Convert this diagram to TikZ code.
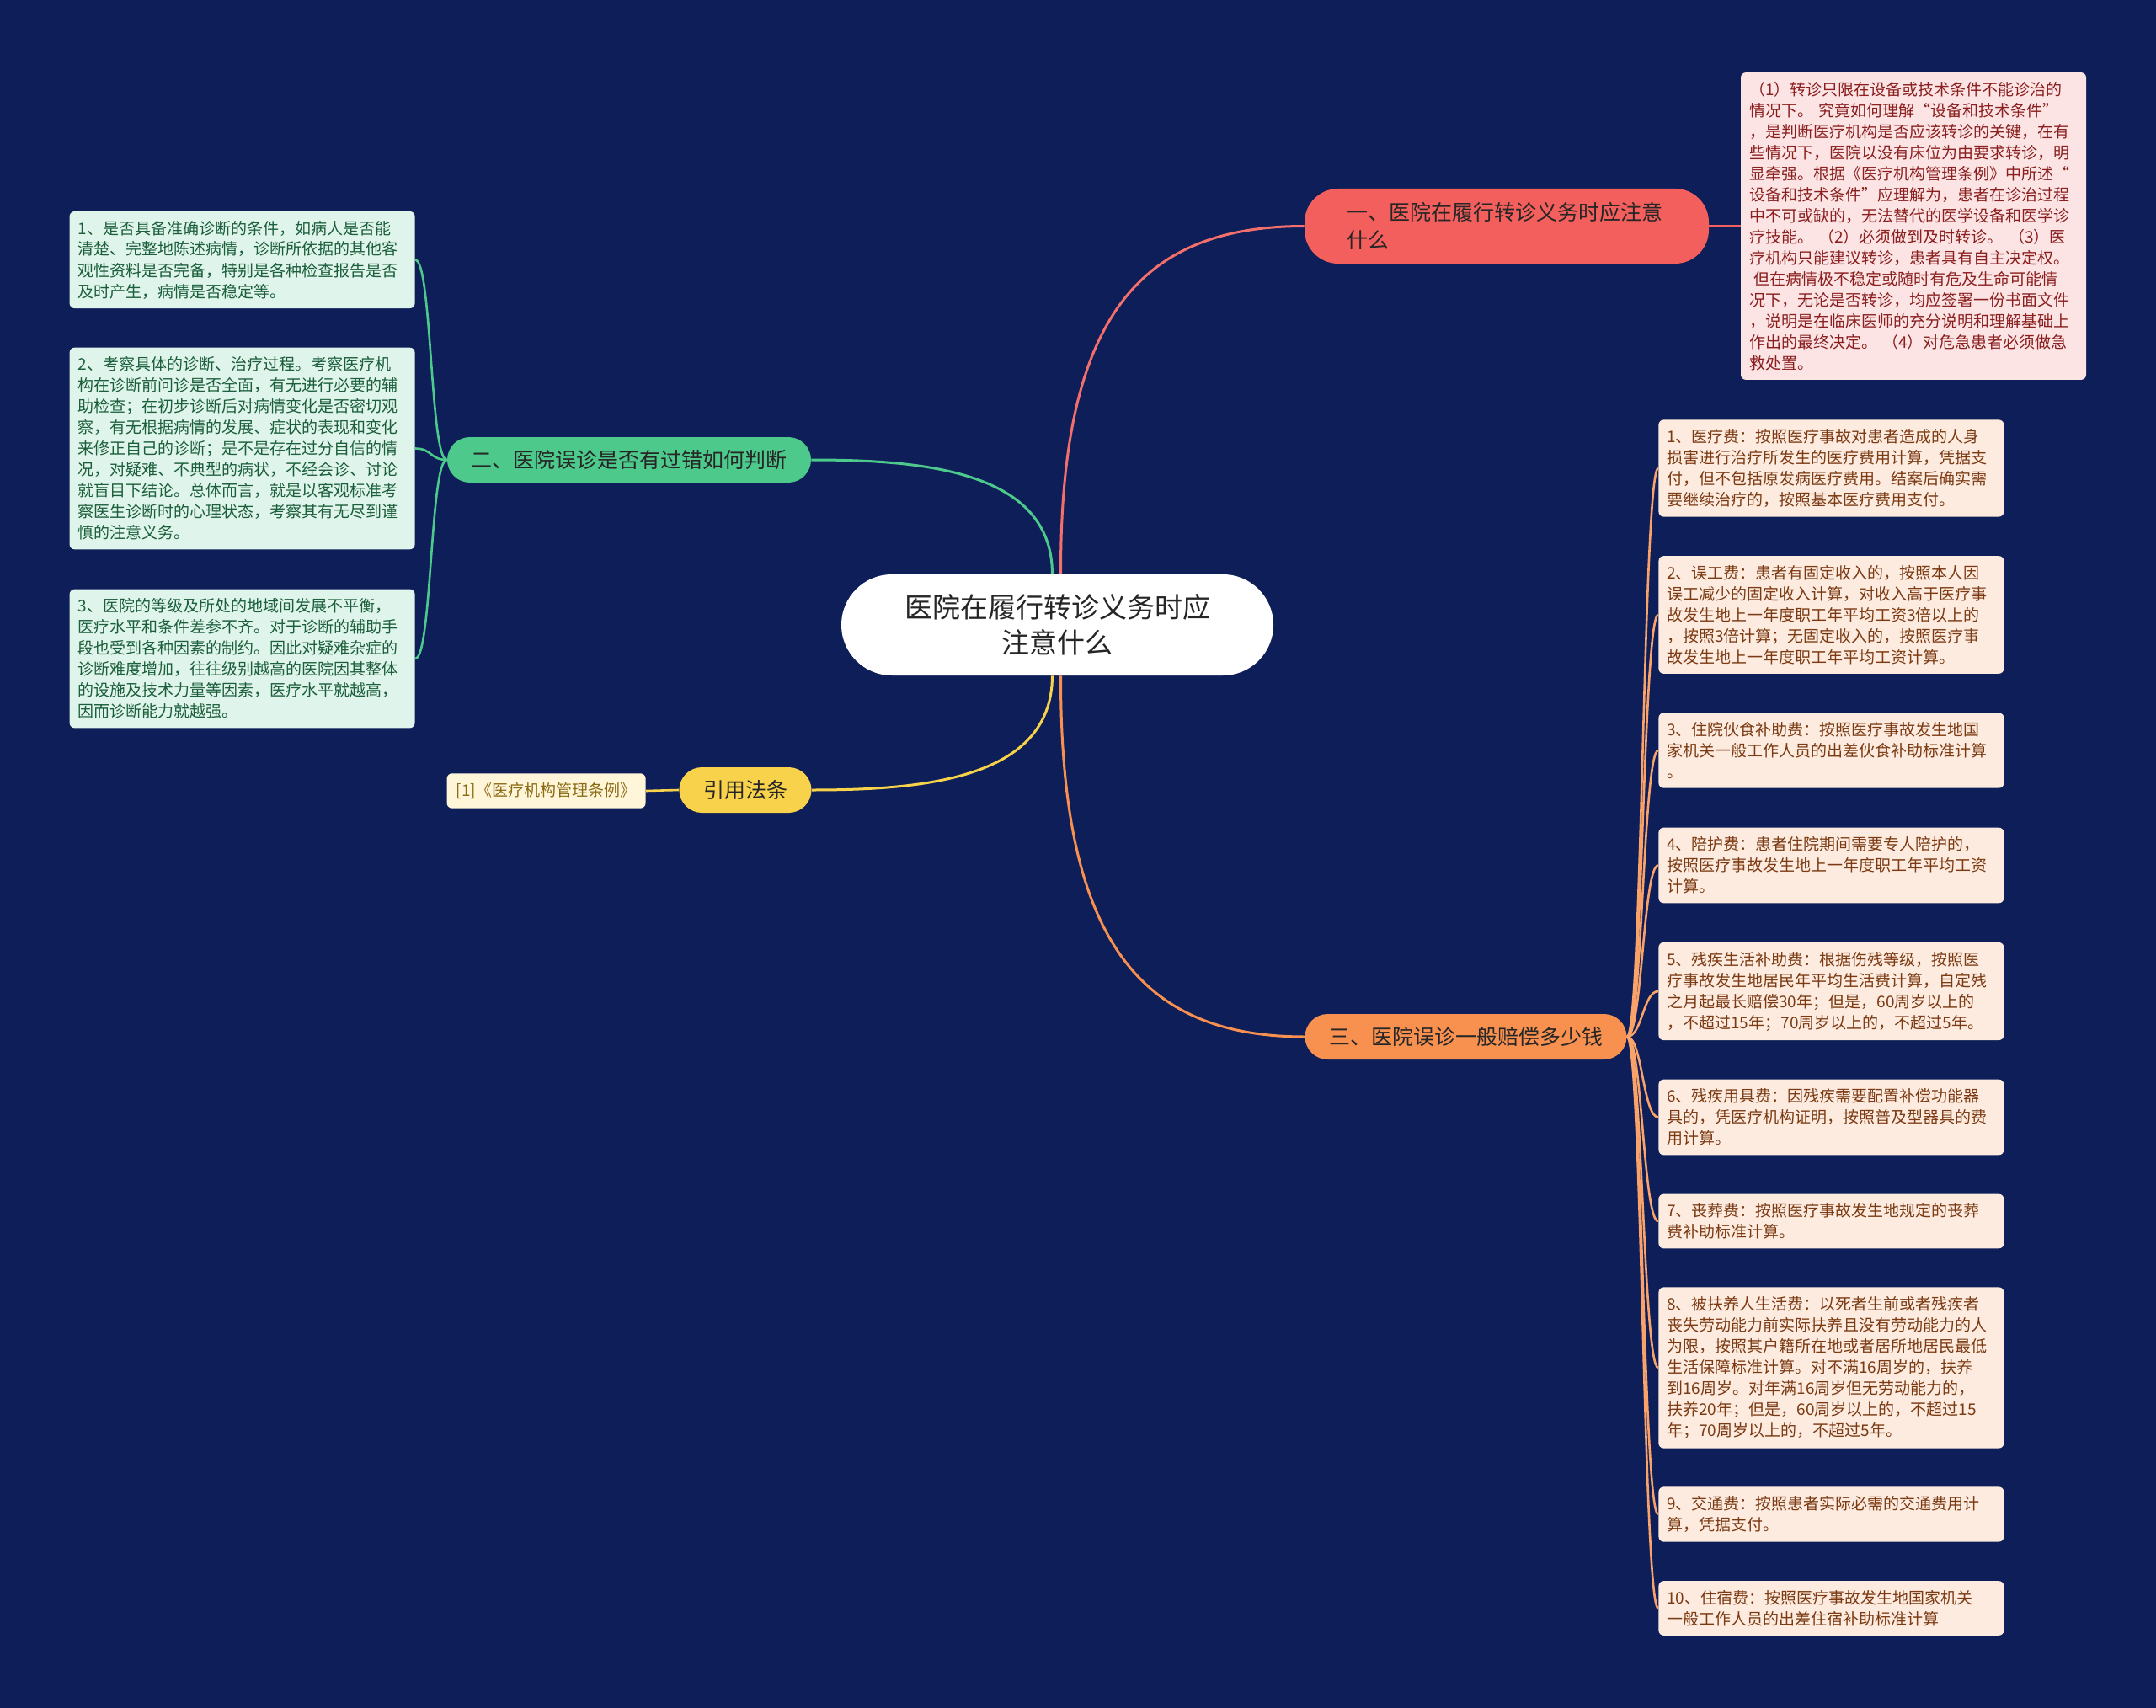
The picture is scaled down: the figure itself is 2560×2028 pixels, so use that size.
\documentclass[tikz,border=0pt]{standalone}
\usepackage{fontspec}
\setmainfont{Noto Sans CJK SC}
\definecolor{cnavy}{HTML}{0E1E58}
\definecolor{cdark}{HTML}{262626}
\definecolor{cred}{HTML}{F25F5C}
\definecolor{credl}{HTML}{FCE4E4}
\definecolor{credt}{HTML}{8B1E1E}
\definecolor{cgreen}{HTML}{4CC98B}
\definecolor{cgreenl}{HTML}{DFF4EA}
\definecolor{cgreent}{HTML}{1B5E3B}
\definecolor{cyellow}{HTML}{F8D24A}
\definecolor{cyellowl}{HTML}{FFF5D9}
\definecolor{cyellowt}{HTML}{8A6A12}
\definecolor{corange}{HTML}{F89150}
\definecolor{corangel}{HTML}{FDEBE0}
\definecolor{coranget}{HTML}{7B3A12}
\tikzset{
  rootbox/.style={fill=white, text=cdark, rounded corners=30pt, minimum width=256.5pt, minimum height=60pt, align=center, font=\fontsize{16.5pt}{21pt}\selectfont},
  branch/.style={fill=#1, text=cdark, rounded corners=13.5pt, minimum height=27pt, inner xsep=14.25pt, font=\fontsize{12.5pt}{16.5pt}\selectfont},
  leaf/.style 2 args={fill=#1, text=#2, rounded corners=3pt, text width=195pt, align=left, inner xsep=5pt, inner ysep=5.5pt, font=\fontsize{9.5pt}{12.5pt}\selectfont},
  link/.style={draw=#1, line width=1.5pt},
  twig/.style={draw=#1, line width=1.3pt},
}

\begin{document}
\begin{tikzpicture}[x=0.5pt, y=-0.5pt]
  \fill[cnavy] (0,0) rectangle (2560,2028);

  % centre and main branches
  \node[rootbox] (root) at (1255.5,742) {医院在履行转诊义务时应\\注意什么};
  \node[branch=cred, minimum width=240pt, minimum height=44.5pt, rounded corners=20pt, text width=190pt, align=left] (b1) at (1789,268.5) {一、医院在履行转诊义务时应注意\\什么};
  \node[branch=cgreen] (b2) at (747,546) {二、医院误诊是否有过错如何判断};
  \node[branch=cyellow] (b3) at (885,938) {引用法条};
  \node[branch=corange] (b4) at (1740.5,1231) {三、医院误诊一般赔偿多少钱};

  \draw[link=cred!90!white] ([xshift=2pt]root.north) .. controls (1259,382) and (1349,268.5) .. (b1.west);
  \draw[link=cgreen] ([xshift=-3pt]root.north) .. controls (1249,560) and (1100,546) .. (b2.east);
  \draw[link=cyellow] ([xshift=-3pt]root.south) .. controls (1249,924) and (1100,938) .. (b3.east);
  \draw[link=corange] ([xshift=2pt]root.south) .. controls (1259,1110) and (1349,1231) .. (b4.west);

  % branch one
  \node[leaf={credl}{credt}] (r1) at (2272,268.5) {（1）转诊只限在设备或技术条件不能诊治的\\情况下。 究竟如何理解“设备和技术条件”\\，是判断医疗机构是否应该转诊的关键，在有\\些情况下，医院以没有床位为由要求转诊，明\\显牵强。根据《医疗机构管理条例》中所述“\\设备和技术条件”应理解为，患者在诊治过程\\中不可或缺的，无法替代的医学设备和医学诊\\疗技能。 （2）必须做到及时转诊。 （3）医\\疗机构只能建议转诊，患者具有自主决定权。\\\hspace*{.3em}但在病情极不稳定或随时有危及生命可能情\\况下，无论是否转诊，均应签署一份书面文件\\，说明是在临床医师的充分说明和理解基础上\\作出的最终决定。 （4）对危急患者必须做急\\救处置。};
  \draw[twig=cred] (b1.east) -- (r1.west);

  % branch two
  \foreach \n/\y/\t in {1/308.5/{1、是否具备准确诊断的条件，如病人是否能\\清楚、完整地陈述病情，诊断所依据的其他客\\观性资料是否完备，特别是各种检查报告是否\\及时产生，病情是否稳定等。},
                        2/532.5/{2、考察具体的诊断、治疗过程。考察医疗机\\构在诊断前问诊是否全面，有无进行必要的辅\\助检查；在初步诊断后对病情变化是否密切观\\察，有无根据病情的发展、症状的表现和变化\\来修正自己的诊断；是不是存在过分自信的情\\况，对疑难、不典型的病状，不经会诊、讨论\\就盲目下结论。总体而言，就是以客观标准考\\察医生诊断时的心理状态，考察其有无尽到谨\\慎的注意义务。},
                        3/782/{3、医院的等级及所处的地域间发展不平衡，\\医疗水平和条件差参不齐。对于诊断的辅助手\\段也受到各种因素的制约。因此对疑难杂症的\\诊断难度增加，往往级别越高的医院因其整体\\的设施及技术力量等因素，医疗水平就越高，\\因而诊断能力就越强。}}
    { \node[leaf={cgreenl}{cgreent}, anchor=east] (g\n) at (493,\y) {\t};
      \draw[twig=cgreen] (b2.west) .. controls +(-20,0) and +(20,0) .. (g\n.east); }

  % branch three
  \node[leaf={cyellowl}{cyellowt}, text width=110pt, inner xsep=4pt, minimum height=20.5pt, align=center, anchor=east] (y1) at (767,939) {[1]《医疗机构管理条例》};
  \draw[twig=cyellow] (b3.west) -- (y1.east);

  % branch four
  \foreach \n/\y/\t in {1/556/{1、医疗费：按照医疗事故对患者造成的人身\\损害进行治疗所发生的医疗费用计算，凭据支\\付，但不包括原发病医疗费用。结案后确实需\\要继续治疗的，按照基本医疗费用支付。},
                        2/730/{2、误工费：患者有固定收入的，按照本人因\\误工减少的固定收入计算，对收入高于医疗事\\故发生地上一年度职工年平均工资3倍以上的\\，按照3倍计算；无固定收入的，按照医疗事\\故发生地上一年度职工年平均工资计算。},
                        3/891/{3、住院伙食补助费：按照医疗事故发生地国\\家机关一般工作人员的出差伙食补助标准计算\\。},
                        4/1027.5/{4、陪护费：患者住院期间需要专人陪护的，\\按照医疗事故发生地上一年度职工年平均工资\\计算。},
                        5/1177/{5、残疾生活补助费：根据伤残等级，按照医\\疗事故发生地居民年平均生活费计算，自定残\\之月起最长赔偿30年；但是，60周岁以上的\\，不超过15年；70周岁以上的，不超过5年。},
                        6/1326.5/{6、残疾用具费：因残疾需要配置补偿功能器\\具的，凭医疗机构证明，按照普及型器具的费\\用计算。},
                        7/1450/{7、丧葬费：按照医疗事故发生地规定的丧葬\\费补助标准计算。},
                        8/1624/{8、被扶养人生活费：以死者生前或者残疾者\\丧失劳动能力前实际扶养且没有劳动能力的人\\为限，按照其户籍所在地或者居所地居民最低\\生活保障标准计算。对不满16周岁的，扶养\\到16周岁。对年满16周岁但无劳动能力的，\\扶养20年；但是，60周岁以上的，不超过15\\年；70周岁以上的，不超过5年。},
                        9/1798/{9、交通费：按照患者实际必需的交通费用计\\算，凭据支付。},
                        10/1909.5/{10、住宿费：按照医疗事故发生地国家机关\\一般工作人员的出差住宿补助标准计算}}
    { \node[leaf={corangel}{coranget}, anchor=west] (o\n) at (1969,\y) {\t};
      \draw[twig=corange!85!white] (b4.east) .. controls +(18,0) and +(-18,0) .. (o\n.west); }
\end{tikzpicture}
\end{document}
